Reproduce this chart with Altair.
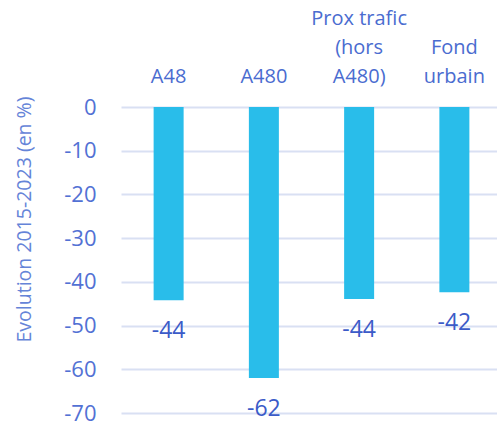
import altair as alt
import pandas as pd

# Categories ("|" marks a line break in the axis label)
categories = ["A48", "A480", "Prox trafic|(hors|A480)", "Fond|urbain"]
# Change 2015-2023, in %
evolution = [-44.2, -62.0, -43.9, -42.4]
# Y axis tick values
y_ticks = [0, -10, -20, -30, -40, -50, -60, -70]

df = pd.DataFrame({"cat": categories, "val": evolution})

FONT = "Segoe UI, Open Sans"
BAR = "#29bdea"
GRID = "#d9e0f3"
LINE_H = 29
PAD = 21

# multi-line labels grow downward, so lift them by their extra lines
label_pad = {
    "condition": [
        {"test": "length(split(datum.value, '|')) == 3", "value": PAD + 2 * LINE_H},
        {"test": "length(split(datum.value, '|')) == 2", "value": PAD + LINE_H},
    ],
    "value": PAD,
}

x_enc = alt.X(
    "cat:N",
    sort=categories,
    scale=alt.Scale(range=[0, 381], paddingInner=0, paddingOuter=0),
    axis=alt.Axis(
        orient="top",
        title=None,
        labelAngle=0,
        labelExpr="split(datum.label, '|')",
        labelFont=FONT,
        labelFontSize=20,
        labelColor="#4a6cd0",
        labelLineHeight=LINE_H,
        labelBaseline="bottom",
        labelPadding=label_pad,
        ticks=False,
        tickSize=0,
        domain=False,
        grid=False,
    ),
)

y_enc = alt.Y(
    "val:Q",
    scale=alt.Scale(domain=[-70, 0], nice=False, zero=False),
    axis=alt.Axis(
        values=y_ticks,
        labelExpr="toString(datum.value)",
        labelFont=FONT,
        labelFontSize=22,
        labelColor="#5271d4",
        labelPadding=25,
        ticks=False,
        domain=False,
        grid=True,
        gridColor=GRID,
        gridWidth=2,
        title="Evolution 2015-2023 (en %)",
        titleFont=FONT,
        titleFontSize=19.5,
        titleFontWeight="normal",
        titleColor="#6584d8",
        titleAngle=-90,
        titleX=-97,
        titleY=112,
        titleAlign="center",
        titleBaseline="middle",
    ),
)

bars = alt.Chart(df).mark_bar(size=30, color=BAR).encode(x=x_enc, y=y_enc)

labels = (
    alt.Chart(df)
    .transform_calculate(lbl="toString(round(datum.val))")
    .mark_text(font=FONT, fontSize=23, color="#3b5bc8", baseline="middle", dy=31)
    .encode(x=alt.X("cat:N", sort=categories), y="val:Q", text="lbl:N")
)

chart = (
    alt.layer(bars, labels)
    .properties(
        width=376,
        height=306,
        background="white",
        autosize=alt.AutoSizeParams(type="none"),
        padding={"left": 121, "top": 107, "right": 0, "bottom": 14},
    )
    .configure_view(stroke="transparent", strokeWidth=0)
)

chart.save("out.html", embed_options={"renderer": "svg", "actions": False})
